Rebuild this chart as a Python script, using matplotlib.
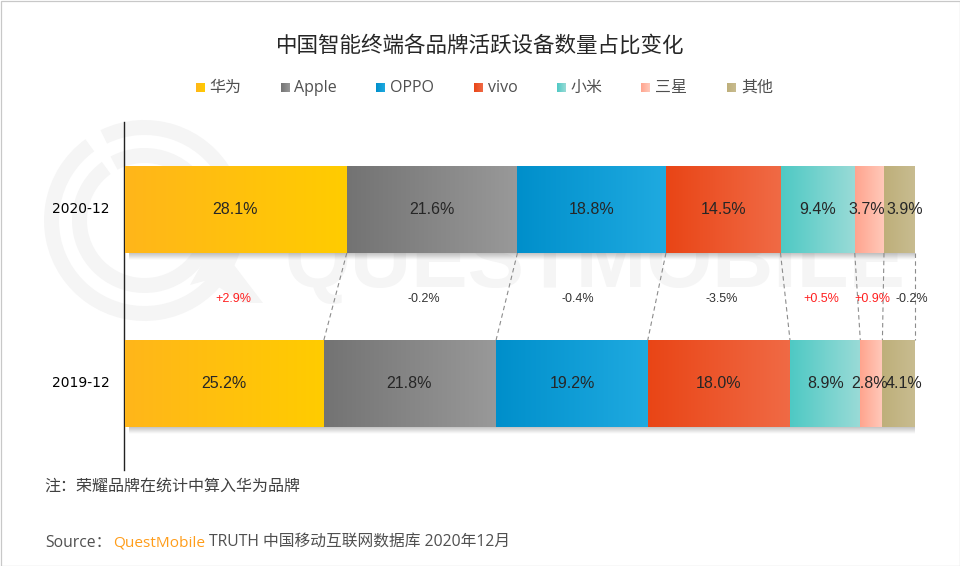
import numpy as np
import matplotlib
matplotlib.use("Agg")
import matplotlib.pyplot as plt
from matplotlib.colors import to_rgb
from matplotlib.patches import Wedge, Polygon, Rectangle

# ---- data ----
title = "中国智能终端各品牌活跃设备数量占比变化"
periods = ["2020-12", "2019-12"]
brands = ["华为", "Apple", "OPPO", "vivo", "小米", "三星", "其他"]
share_2020 = [28.1, 21.6, 18.8, 14.5, 9.4, 3.7, 3.9]
share_2019 = [25.2, 21.8, 19.2, 18.0, 8.9, 2.8, 4.1]
changes = ["+2.9%", "-0.2%", "-0.4%", "-3.5%", "+0.5%", "+0.9%", "-0.2%"]
note = "注：荣耀品牌在统计中算入华为品牌"
source_a = "Source："
source_b = "QuestMobile"
source_c = "TRUTH 中国移动互联网数据库 2020年12月"

# ---- styles / layout ----
grad_start = ["#FFB61A", "#737373", "#008FCB", "#E94516", "#4EC9C4", "#FFA48E", "#BEAF7A"]
grad_end = ["#FFCC00", "#999999", "#1FAAE0", "#F06A45", "#9ADBD7", "#FFCABB", "#C8BC90"]
legend_sq_x = [196, 281, 376, 474, 557, 641, 727]
legend_tx_x = [209, 294, 390, 488, 571, 655, 741]
label_nudge = [[-0.5, -0.5, 0, 0, 0, -3, 5.5], [-0.5, -0.5, 0, 0, 0, -2, 5.5]]
change_x_nudge = [3, 3, -4, 0.5, 0, 1.5, 13]

FW, FH = 960, 566
CJK = "Noto Sans CJK SC"
LATIN = ["Open Sans", CJK]
fig = plt.figure(figsize=(FW / 100, FH / 100), dpi=100, facecolor="white")


def px_axes(z):
    a = fig.add_axes([0, 0, 1, 1], zorder=z)
    a.set_xlim(0, FW)
    a.set_ylim(FH, 0)
    a.axis("off")
    a.patch.set_alpha(0)
    return a


# ---- watermark (below the chart) ----
wm = px_axes(0)
wm_col = "#F5F5F5"
cx, cy = 144.5, 220.5
wm.add_patch(Wedge((cx, cy), 100.5, -116, 234, width=15, fc=wm_col, ec="none"))
wm.add_patch(Wedge((cx, cy), 72.5, -118, 234, width=15, fc=wm_col, ec="none"))
wm.add_patch(Polygon([(215, 240), (263, 303), (243, 303), (208, 280), (190, 285)],
                     closed=True, fc=wm_col, ec="none"))
wm.text(285, 287.5, "QUESTMOBILE", family="Liberation Sans", weight="bold", fontsize=61,
        color=wm_col, ha="left", va="baseline")

# ---- chart ----
L, R, T, B = 124.8, 914.8, 122, 470
ax = fig.add_axes([L / FW, 1 - B / FH, (R - L) / FW, (B - T) / FH], zorder=1)
ax.patch.set_alpha(0)
bar_h = 0.5
ys = [0, 1]
series = [share_2020, share_2019]
px_per_y = 174.0
px_per_x = (R - L) / 100.0


def hgrad(c0, c1):
    a, b = np.array(to_rgb(c0)), np.array(to_rgb(c1))
    t = np.linspace(0, 1, 128)[:, None]
    return (a + (b - a) * t)[None, :, :]


shadow = np.zeros((32, 2, 4))
shadow[..., :3] = 0.45
shadow[..., 3] = np.linspace(0.42, 0, 32)[:, None]

edges = []
for y, vals, nudges in zip(ys, series, label_nudge):
    left = np.concatenate([[0], np.cumsum(vals)[:-1]])
    edges.append(np.cumsum(vals))
    # drop shadow under the bar
    ax.imshow(shadow, extent=(4 / px_per_x, 100, y + bar_h / 2 + 7 / px_per_y, y + bar_h / 2),
              aspect="auto", zorder=1, interpolation="bilinear")
    bars = ax.barh([y] * len(vals), vals, left=left, height=bar_h,
                   color=grad_end, zorder=2, linewidth=0)
    for bar, c0, c1, v, dx in zip(bars, grad_start, grad_end, vals, nudges):
        x0, w = bar.get_x(), bar.get_width()
        ax.imshow(hgrad(c0, c1), extent=(x0, x0 + w, y + bar_h / 2, y - bar_h / 2),
                  aspect="auto", zorder=3, interpolation="bilinear")
        ax.text(x0 + w / 2 + dx / px_per_x, y + 0.5 / px_per_y, f"{v:.1f}%",
                family="Liberation Sans", fontsize=11.5, color="#262626",
                ha="center", va="center", zorder=5, clip_on=False)

# connectors between the two bars
for e0, e1 in zip(edges[0], edges[1]):
    ax.plot([e0, e1], [ys[0] + bar_h / 2, ys[1] - bar_h / 2], color="#8C8C8C",
            lw=0.8, ls=(0, (4, 3)), zorder=2, clip_on=False)

# change labels between the bars
mid = [(e0 - a / 2 + e1 - b / 2) / 2 for e0, a, e1, b in zip(edges[0], share_2020, edges[1], share_2019)]
for m, txt, dx in zip(mid, changes, change_x_nudge):
    ax.text(m + dx / px_per_x, 0.5 + 2 / px_per_y, txt, family="Liberation Sans", fontsize=9,
            color="#FF2020" if txt.startswith("+") else "#333333",
            ha="center", va="center", zorder=6, clip_on=False)

ax.set_xlim(0, 100)
ax.set_ylim(1 + (B - 383.5) / px_per_y, -(209.5 - T) / px_per_y)
ax.set_xticks([])
ax.set_yticks([y - 2 / px_per_y for y in ys])
ax.set_yticklabels(periods, family=LATIN, fontsize=11.4, color="#555555")
ax.tick_params(axis="y", length=0, pad=10.5)
for s in ("top", "right", "bottom"):
    ax.spines[s].set_visible(False)
ax.spines["left"].set_color("#222222")
ax.spines["left"].set_linewidth(1.0)
ax.spines["left"].set_position(("outward", 0.5))

# ---- texts on top ----
top = px_axes(2)
top.text(480, 46, title, family=CJK, weight="medium", fontsize=15.5, color="#262626",
         ha="center", va="center")
for name, sx, tx, c0, c1 in zip(brands, legend_sq_x, legend_tx_x, grad_start, grad_end):
    top.imshow(hgrad(c0, c1), extent=(sx, sx + 9, 92, 83), aspect="auto", interpolation="bilinear")
    top.text(tx, 88, name, family=LATIN, fontsize=11.5, color="#505050", ha="left", va="center")
top.text(44.5, 486, note, family=CJK, fontsize=11.5, color="#404040", ha="left", va="center")
top.text(45, 543, source_a, family=LATIN, fontsize=11.3, color="#505050", ha="left", va="center")
top.text(113, 543, source_b, family=LATIN, fontsize=11.1, color="#FF9D1A", ha="left", va="center")
top.text(209, 543, source_c, family=LATIN, fontsize=11.35, color="#505050", ha="left", va="center")
top.set_xlim(0, FW)
top.set_ylim(FH, 0)
top.add_patch(Rectangle((0.5, 0.5), FW - 1, FH - 1, fc="none", ec="#C8C8C8", lw=0.9))

fig.savefig("out.png", dpi=100, facecolor="white")
